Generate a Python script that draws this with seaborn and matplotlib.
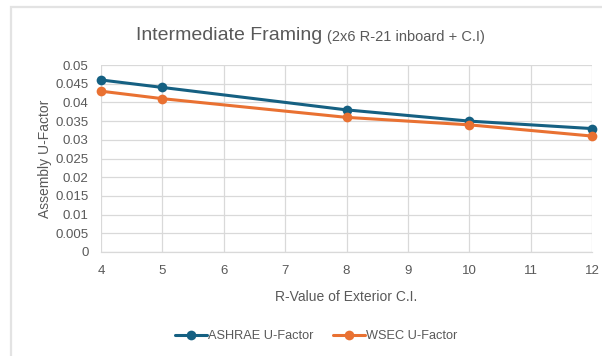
import matplotlib
matplotlib.use("Agg")
import matplotlib.pyplot as plt
import seaborn as sns
import pandas as pd
from matplotlib.patches import Rectangle
from matplotlib.lines import Line2D

# Data
r_values = [4, 5, 8, 10, 12]
ashrae_u = [0.046, 0.044, 0.038, 0.035, 0.033]
wsec_u = [0.043, 0.041, 0.036, 0.034, 0.031]
series_names = ["ASHRAE U-Factor", "WSEC U-Factor"]
x_ticks = list(range(4, 13))
y_ticks = [0, 0.005, 0.01, 0.015, 0.02, 0.025, 0.03, 0.035, 0.04, 0.045, 0.05]
y_tick_labels = ["0", "0.005", "0.01", "0.015", "0.02", "0.025", "0.03", "0.035", "0.04", "0.045", "0.05"]

df = pd.DataFrame({
    "R": r_values * 2,
    "U": ashrae_u + wsec_u,
    "Series": [series_names[0]] * len(r_values) + [series_names[1]] * len(r_values),
})

sns.set_theme(style="white")
plt.rcParams["font.family"] = ["Liberation Sans", "DejaVu Sans"]

colors = {series_names[0]: "#156082", series_names[1]: "#E97132"}
text_gray = "#595959"
grid_gray = "#D9D9D9"

fig = plt.figure(figsize=(6.02, 3.56), dpi=100)
fig.patch.set_facecolor("white")

# Chart-area border
fig.add_artist(Rectangle((10.5 / 602, -0.1), 1.2, 1 - 6.5 / 356 + 0.1,
                         transform=fig.transFigure, fill=False,
                         edgecolor="#E3E3E3", linewidth=1.6))

ax = fig.add_axes([101 / 602, 1 - 252 / 356, (592 - 101) / 602, (252 - 65) / 356])

sns.lineplot(data=df, x="R", y="U", hue="Series", palette=colors, marker="o",
             markersize=7, markeredgewidth=0, linewidth=2.2, ax=ax, legend=False,
             clip_on=False, zorder=3)

ax.set_xlim(4, 12)
ax.set_ylim(0, 0.05)
ax.set_xticks(x_ticks)
ax.set_yticks(y_ticks)
ax.set_yticklabels(y_tick_labels)
ax.grid(True, color=grid_gray, linewidth=0.9)
ax.set_axisbelow(True)
for side in ["left", "top", "right"]:
    ax.spines[side].set_visible(False)
ax.spines["bottom"].set_color(grid_gray)
ax.spines["bottom"].set_linewidth(0.9)
ax.tick_params(axis="both", length=0, labelsize=9.5, colors=text_gray)
ax.tick_params(axis="x", pad=9)
ax.tick_params(axis="y", pad=9)

ax.set_xlabel("R-Value of Exterior C.I.", fontsize=10, color=text_gray, labelpad=10)
ax.set_ylabel("Assembly U-Factor", fontsize=10, color=text_gray, labelpad=2)

# Title with smaller parenthetical placed right after the main text
title_main = fig.text(136 / 602, 1 - 35 / 356, "Intermediate Framing", fontsize=14,
                      color=text_gray, va="center", ha="left")
renderer = fig.canvas.get_renderer()
bb = title_main.get_window_extent(renderer=renderer)
fig.text((bb.x1 + 5) / 602, 1 - 36.5 / 356, "(2x6 R-21 inboard + C.I)", fontsize=10.5,
         color=text_gray, va="center", ha="left")

handles = [Line2D([0], [0], color=colors[n], marker="o", markersize=7,
                  markeredgewidth=0, linewidth=2.2) for n in series_names]
fig.legend(handles, series_names, loc="center", bbox_to_anchor=(316 / 602, 1 - 336 / 356),
           ncol=2, frameon=False, fontsize=9.2, labelcolor=text_gray,
           handlelength=2.5, handletextpad=0.1, columnspacing=1.5)

fig.savefig("out.png", dpi=100, facecolor="white")
